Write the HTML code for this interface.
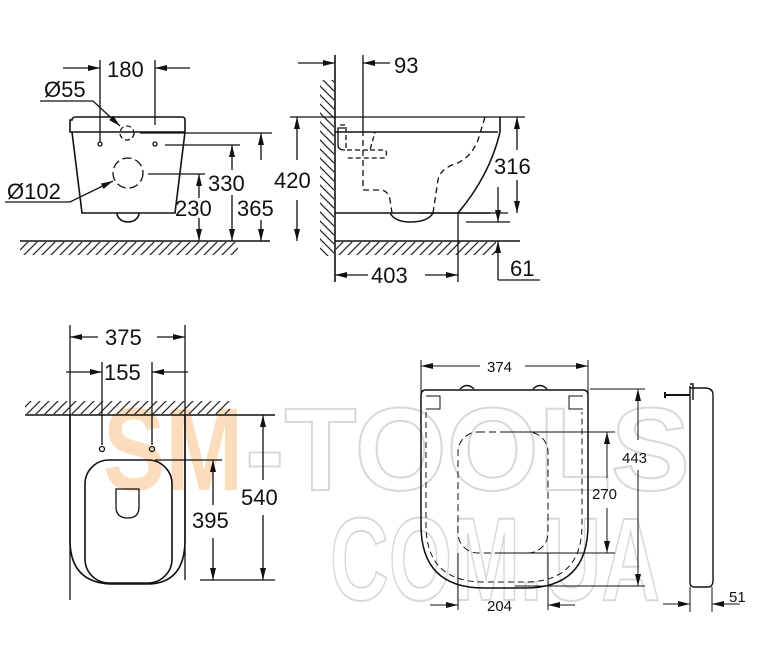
<!DOCTYPE html>
<html><head><meta charset="utf-8"><style>html,body{margin:0;padding:0;background:#fff}svg{display:block}</style></head>
<body>
<svg width="780" height="650" viewBox="0 0 780 650" xmlns="http://www.w3.org/2000/svg">
<defs>
<marker id="a" viewBox="0 0 12 6" refX="12" refY="3" markerWidth="12" markerHeight="6" markerUnits="userSpaceOnUse" orient="auto"><path d="M0,0L12,3L0,6z" fill="#111"/></marker>
<pattern id="h" width="9" height="9" patternUnits="userSpaceOnUse"><path d="M0,9L9,0M-2,2L2,-2M7,11L11,7" stroke="#222" stroke-width="1.2"/></pattern>
<pattern id="hv" width="9" height="9" patternUnits="userSpaceOnUse"><path d="M0,0L9,9M-2,7L2,11M7,-2L11,2" stroke="#222" stroke-width="1.2"/></pattern>
</defs>
<!-- watermark -->
<g font-family="Liberation Sans, sans-serif" font-weight="bold" font-size="118">
<text x="103" y="490" fill="#fbdcbd" textLength="140" lengthAdjust="spacingAndGlyphs">SM</text>
<text x="245" y="490" fill="none" stroke="#d8d8d8" stroke-width="2" textLength="445" lengthAdjust="spacingAndGlyphs">-TOOLS</text>
<text x="330" y="600" fill="none" stroke="#d8d8d8" stroke-width="2" textLength="330" lengthAdjust="spacingAndGlyphs">COM.UA</text>
</g>
<g stroke="#111" stroke-width="1.3" fill="none">
<!-- TOP LEFT -->
<line x1="63" y1="68" x2="100" y2="68" marker-end="url(#a)"/>
<line x1="190" y1="68" x2="155" y2="68" marker-end="url(#a)"/>
<line x1="100" y1="60" x2="100" y2="142"/><line x1="155" y1="60" x2="155" y2="125"/>
<path d="M40,101H93L120,126" marker-end="url(#a)"/>
<path d="M5,202H70L113,181" marker-end="url(#a)"/>
<path d="M72,120Q72,117 76,117H182Q185,117 185,120V132H70V120Z" stroke-width="1.6"/>
<path d="M72,132L82,213H175L185,132" stroke-width="1.6"/>
<path d="M117,213A11,9 0 0 0 139,213" stroke-width="1.6"/>
<circle cx="127" cy="133" r="7" stroke-dasharray="5,3"/>
<circle cx="100" cy="144" r="2"/><circle cx="155" cy="144" r="2"/>
<circle cx="128" cy="173" r="15" stroke-dasharray="9,4"/>
<line x1="140" y1="133" x2="272" y2="133"/>
<line x1="165" y1="145" x2="240" y2="145"/>
<line x1="148" y1="174" x2="205" y2="174"/>
<line x1="20" y1="241" x2="270" y2="241" stroke-width="1.6"/>
<rect x="20" y="242" width="218" height="13" fill="url(#h)" stroke="none"/>
<line x1="199" y1="198" x2="199" y2="174" marker-end="url(#a)"/>
<line x1="199" y1="218" x2="199" y2="241" marker-end="url(#a)"/>
<line x1="232" y1="170" x2="232" y2="145" marker-end="url(#a)"/>
<line x1="232" y1="195" x2="232" y2="241" marker-end="url(#a)"/>
<line x1="261" y1="160" x2="261" y2="133" marker-end="url(#a)"/>
<line x1="261" y1="220" x2="261" y2="241" marker-end="url(#a)"/>
<!-- TOP RIGHT -->
<line x1="298" y1="63" x2="335" y2="63" marker-end="url(#a)"/>
<line x1="390" y1="63" x2="363" y2="63" marker-end="url(#a)"/>
<line x1="335" y1="55" x2="335" y2="282" stroke-width="1.6"/>
<rect x="320" y="80" width="14" height="176" fill="url(#hv)" stroke="none"/>
<line x1="363" y1="55" x2="363" y2="130"/>
<line x1="290" y1="117" x2="525" y2="117"/>
<line x1="335" y1="132" x2="498" y2="132" stroke-width="1.6"/>
<path d="M500,117V132Q490,175 458,213" stroke-width="1.6"/>
<line x1="335" y1="213" x2="490" y2="213" stroke-width="1.6"/>
<line x1="420" y1="213" x2="508" y2="213"/>
<path d="M390,213Q395,222 410,222Q428,222 433,213" stroke-width="1.4"/>
<line x1="466" y1="222" x2="510" y2="222"/>
<path d="M363,130V190H380Q388,190 390,200L392,213" stroke-dasharray="6,4"/>
<path d="M433,213L438,180Q440,170 452,165Q470,160 478,140L485,117" stroke-dasharray="6,4"/>
<path d="M340,125H346V150H370L375,132" stroke-dasharray="5,3"/>
<path d="M345,128H338V145Q338,150 345,150" />
<path d="M370,150H385Q388,152 385,158H345" stroke-dasharray="5,3"/>
<line x1="335" y1="241" x2="520" y2="241" stroke-width="1.6"/>
<rect x="336" y="242" width="160" height="13" fill="url(#h)" stroke="none"/>
<line x1="297" y1="160" x2="297" y2="117" marker-end="url(#a)"/>
<line x1="297" y1="200" x2="297" y2="241" marker-end="url(#a)"/>
<line x1="517" y1="150" x2="517" y2="117" marker-end="url(#a)"/>
<line x1="517" y1="180" x2="517" y2="213" marker-end="url(#a)"/>
<line x1="498" y1="187" x2="498" y2="222" marker-end="url(#a)"/>
<path d="M498,280V241" marker-end="url(#a)"/><path d="M498,280H540"/>
<line x1="458" y1="213" x2="458" y2="282"/>
<line x1="368" y1="275" x2="335" y2="275" marker-end="url(#a)"/>
<line x1="425" y1="275" x2="458" y2="275" marker-end="url(#a)"/>
<!-- BOTTOM LEFT -->
<line x1="70" y1="325" x2="70" y2="600"/><line x1="185" y1="325" x2="185" y2="580"/>
<line x1="98" y1="337" x2="70" y2="337" marker-end="url(#a)"/>
<line x1="157" y1="337" x2="185" y2="337" marker-end="url(#a)"/>
<line x1="102" y1="362" x2="102" y2="445"/><line x1="152" y1="362" x2="152" y2="445"/>
<line x1="66" y1="372" x2="102" y2="372" marker-end="url(#a)"/>
<line x1="188" y1="372" x2="152" y2="372" marker-end="url(#a)"/>
<rect x="25" y="401" width="205" height="13" fill="url(#h)" stroke="none"/>
<line x1="25" y1="415" x2="275" y2="415" stroke-width="1.6"/>
<path d="M70,415V540Q70,582 110,584H150Q185,582 185,540V415" stroke-width="1.6"/>
<circle cx="102" cy="449" r="2.5"/><circle cx="152" cy="449" r="2.5"/>
<rect x="85" y="460" width="87" height="123" rx="24" stroke-width="1.6"/>
<path d="M116,489H139V507Q139,518 128,518Q116,518 116,507Z"/>
<line x1="155" y1="460" x2="222" y2="460"/>
<line x1="200" y1="580" x2="275" y2="580"/>
<line x1="213" y1="505" x2="213" y2="460" marker-end="url(#a)"/>
<line x1="213" y1="538" x2="213" y2="580" marker-end="url(#a)"/>
<line x1="263" y1="480" x2="263" y2="415" marker-end="url(#a)"/>
<line x1="263" y1="515" x2="263" y2="580" marker-end="url(#a)"/>
<!-- BOTTOM RIGHT -->
<line x1="421" y1="360" x2="421" y2="395" stroke-width="1"/><line x1="588" y1="360" x2="588" y2="395" stroke-width="1"/>
<line x1="480" y1="366" x2="421" y2="366" marker-end="url(#a)" stroke-width="1"/>
<line x1="525" y1="366" x2="588" y2="366" marker-end="url(#a)" stroke-width="1"/>
<path d="M460,389Q467,382 474,389M533,389Q540,382 547,389"/>
<path d="M421,395Q421,390 426,390H583Q588,390 588,395V525Q588,588 525,588H484Q421,588 421,525Z" stroke-width="1.5"/>
<path d="M426,396H440V409H426M583,396H569V409H583" stroke-width="1"/>
<path d="M426,412V525Q426,582 484,582H525Q582,582 582,525V412" stroke-dasharray="6,4" stroke-width="1"/>
<rect x="458" y="432" width="90" height="121" rx="20" stroke-dasharray="7,4" stroke-width="1"/>
<line x1="500" y1="432" x2="615" y2="432" stroke-width="1"/>
<line x1="500" y1="553" x2="615" y2="553" stroke-width="1"/>
<line x1="607" y1="478" x2="607" y2="432" marker-end="url(#a)" stroke-width="1"/>
<line x1="607" y1="508" x2="607" y2="553" marker-end="url(#a)" stroke-width="1"/>
<line x1="590" y1="389" x2="645" y2="389" stroke-width="1"/>
<line x1="515" y1="586" x2="645" y2="586" stroke-width="1"/>
<line x1="638" y1="440" x2="638" y2="389" marker-end="url(#a)" stroke-width="1"/>
<line x1="638" y1="470" x2="638" y2="586" marker-end="url(#a)" stroke-width="1"/>
<line x1="458" y1="553" x2="458" y2="610" stroke-width="1"/><line x1="548" y1="553" x2="548" y2="610" stroke-width="1"/>
<line x1="430" y1="605" x2="458" y2="605" marker-end="url(#a)" stroke-width="1"/>
<line x1="575" y1="605" x2="548" y2="605" marker-end="url(#a)" stroke-width="1"/>
<path d="M690,386V583Q690,587 695,587H708Q713,587 713,580V395Q713,388 705,388H690" stroke-width="1.4"/>
<path d="M690,384H693V400" stroke-width="1.4"/>
<path d="M665,395H690M665,392V398" stroke-width="2"/>
<line x1="690" y1="587" x2="690" y2="612" stroke-width="1"/><line x1="712" y1="587" x2="712" y2="612" stroke-width="1"/>
<line x1="663" y1="604" x2="690" y2="604" marker-end="url(#a)" stroke-width="1"/>
<line x1="740" y1="604" x2="712" y2="604" marker-end="url(#a)" stroke-width="1"/>
</g>
<g font-family="Liberation Sans, sans-serif" fill="#111" font-size="22">
<text x="107" y="77">180</text>
<text x="44" y="97">Ø55</text>
<text x="7" y="199">Ø102</text>
<text x="208" y="191">330</text>
<text x="175" y="216">230</text>
<text x="237" y="216">365</text>
<text x="394" y="73">93</text>
<text x="274" y="188">420</text>
<text x="494" y="174">316</text>
<text x="510" y="276">61</text>
<text x="371" y="283">403</text>
<text x="105" y="345">375</text>
<text x="104" y="380">155</text>
<text x="241" y="505">540</text>
<text x="192" y="528">395</text>
</g>
<g font-family="Liberation Sans, sans-serif" fill="#111" font-size="15">
<text x="487" y="372">374</text>
<text x="622" y="463">443</text>
<text x="592" y="499">270</text>
<text x="487" y="611">204</text>
<text x="729" y="602">51</text>
</g>
</svg>
</body></html>
